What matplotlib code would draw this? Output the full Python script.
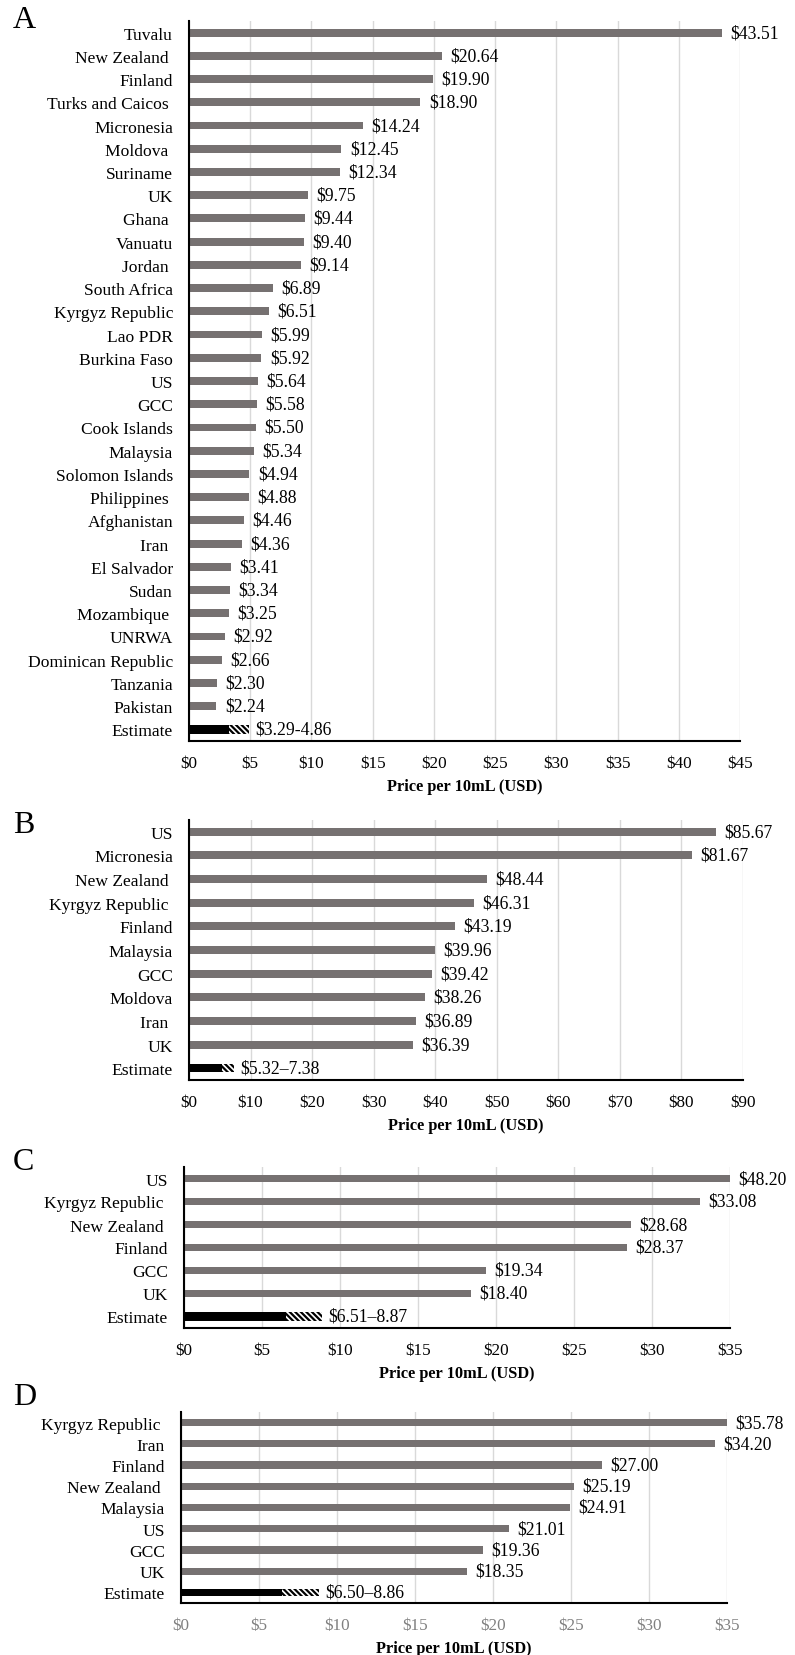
import matplotlib.pyplot as plt
import numpy as np

plt.rcParams['font.family'] = ['Liberation Serif', 'DejaVu Serif']
plt.rcParams['hatch.linewidth'] = 1.6

# Panel A
paisesA = ["Tuvalu", "New Zealand ", "Finland", "Turks and Caicos ", "Micronesia",
           "Moldova ", "Suriname", "UK", "Ghana ", "Vanuatu", "Jordan ", "South Africa",
           "Kyrgyz Republic", "Lao PDR", "Burkina Faso", "US", "GCC", "Cook Islands",
           "Malaysia", "Solomon Islands", "Philippines ", "Afghanistan", "Iran ",
           "El Salvador", "Sudan", "Mozambique ", "UNRWA", "Dominican Republic",
           "Tanzania", "Pakistan"]
preciosA = [43.51, 20.64, 19.90, 18.90, 14.24, 12.45, 12.34, 9.75, 9.44, 9.40, 9.14,
            6.89, 6.51, 5.99, 5.92, 5.64, 5.58, 5.50, 5.34, 4.94, 4.88, 4.46, 4.36,
            3.41, 3.34, 3.25, 2.92, 2.66, 2.30, 2.24]
estimA = (3.29, 4.86)

# Panel B
paisesB = ["US", "Micronesia", "New Zealand ", "Kyrgyz Republic ", "Finland", "Malaysia",
           "GCC", "Moldova", "Iran ", "UK"]
preciosB = [85.67, 81.67, 48.44, 46.31, 43.19, 39.96, 39.42, 38.26, 36.89, 36.39]
estimB = (5.32, 7.38)

# Panel C
paisesC = ["US", "Kyrgyz Republic ", "New Zealand ", "Finland", "GCC", "UK"]
preciosC = [48.20, 33.08, 28.68, 28.37, 19.34, 18.40]
estimC = (6.51, 8.87)

# Panel D
paisesD = ["Kyrgyz Republic ", "Iran", "Finland", "New Zealand ", "Malaysia", "US", "GCC", "UK"]
preciosD = [35.78, 34.20, 27.00, 25.19, 24.91, 21.01, 19.36, 18.35]
estimD = (6.50, 8.86)

gris = "#767171"

fig = plt.figure(figsize=(7.95, 16.56), dpi=100)


def panel(rect, paises, precios, estim, sep, xmax, paso, letra, ypos_letra,
          color_ticks="black"):
    ax = fig.add_axes(rect)
    n = len(paises)
    y = np.arange(n)
    ax.barh(y, precios, height=0.34, color=gris, zorder=2)
    ax.barh(n, estim[0], height=0.36, color="black", zorder=2)
    ax.barh(n, estim[1] - estim[0], left=estim[0], height=0.36, color="white",
            edgecolor="black", linewidth=0, hatch="\\\\\\\\\\\\", zorder=2)
    for yi, v in zip(y, precios):
        ax.annotate("${:.2f}".format(v), (min(v, xmax), yi), xytext=(6, 0),
                    textcoords="offset points", va="center", ha="left",
                    fontsize=12.7, annotation_clip=False)
    ax.annotate("${:.2f}{}{:.2f}".format(estim[0], sep, estim[1]), (estim[1], n),
                xytext=(4.5, 0), textcoords="offset points", va="center",
                ha="left", fontsize=12.7, annotation_clip=False)
    ax.set_yticks(list(y) + [n])
    ax.set_yticklabels(paises + ["Estimate"], fontsize=12.6)
    ax.set_ylim(n + 0.5, -0.5)
    ax.set_xlim(0, xmax)
    ticks = np.arange(0, xmax + 1, paso)
    ax.set_xticks(ticks)
    ax.set_xticklabels(["$%d" % t for t in ticks], fontsize=12.3, color=color_ticks)
    ax.tick_params(axis="both", length=0)
    ax.tick_params(axis="y", pad=11.5)
    ax.tick_params(axis="x", pad=10)
    ax.grid(axis="x", color="#d9d9d9", linewidth=1)
    ax.set_axisbelow(True)
    for s in ["top", "right"]:
        ax.spines[s].set_visible(False)
    for s in ["left", "bottom"]:
        ax.spines[s].set_linewidth(1.5)
    ax.set_xlabel("Price per 10mL (USD)", fontsize=11.8, fontweight="bold", labelpad=5)
    fig.text(0.016, ypos_letra, letra, fontsize=23, va="center", ha="left")
    return ax


panel([189/795, 1 - 742/1656, 551/795, 720/1656], paisesA, preciosA, estimA, "-",
      45, 5, "A", 1 - 20/1656)
panel([189/795, 1 - 1081/1656, 554/795, 260/1656], paisesB, preciosB, estimB, "\u2013",
      90, 10, "B", 1 - 826/1656)
panel([184/795, 1 - 1329/1656, 546/795, 161/1656], paisesC, preciosC, estimC, "\u2013",
      35, 5, "C", 1 - 1163/1656)
panel([181/795, 1 - 1604/1656, 546/795, 191/1656], paisesD, preciosD, estimD, "\u2013",
      35, 5, "D", 1 - 1398/1656, color_ticks="#808080")

plt.savefig("out.png", dpi=100)
